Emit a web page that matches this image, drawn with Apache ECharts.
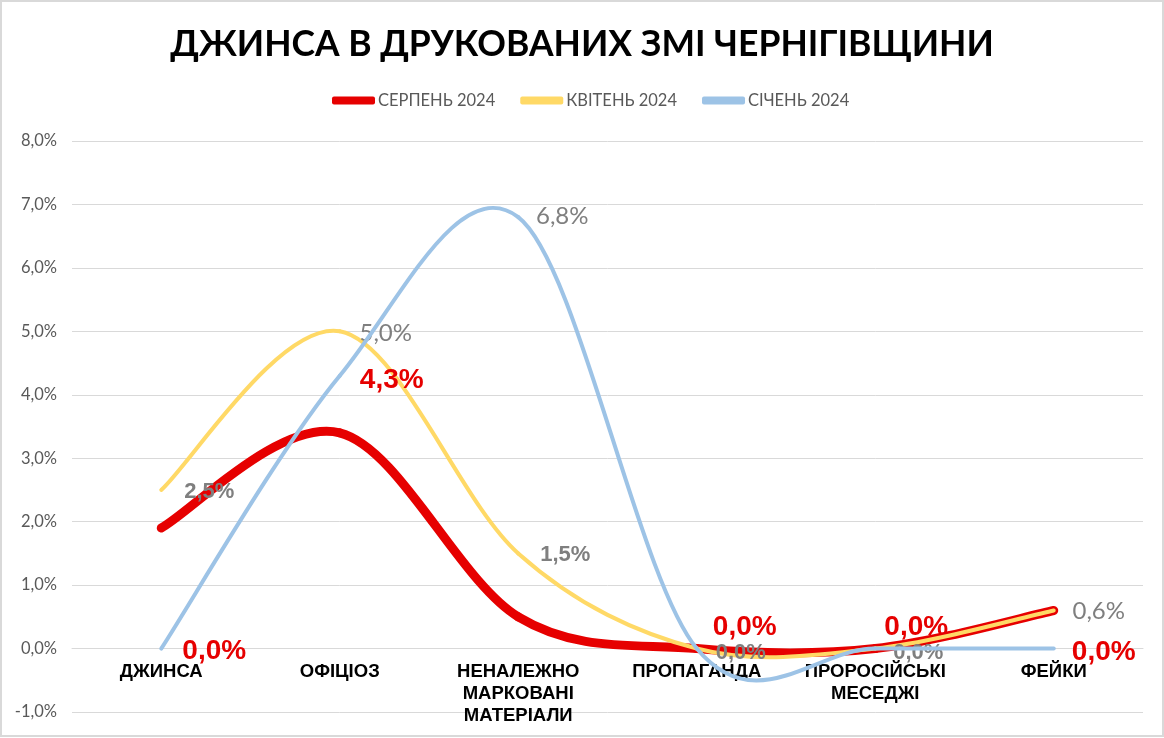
<!DOCTYPE html>
<html>
<head>
<meta charset="utf-8">
<script src="https://cdn.jsdelivr.net/npm/echarts@6/dist/echarts.min.js"></script>
<style>
html,body{margin:0;padding:0;background:#fff;}
#chart{width:1164px;height:738px;}
</style>
</head>
<body>
<div id="chart"></div>
<script>
const title = 'ДЖИНСА В ДРУКОВАНИХ ЗМІ ЧЕРНІГІВЩИНИ';
const categories = ['ДЖИНСА', 'ОФІЦІОЗ', 'НЕНАЛЕЖНО\nМАРКОВАНІ\nМАТЕРІАЛИ', 'ПРОПАГАНДА', 'ПРОРОСІЙСЬКІ\nМЕСЕДЖІ', 'ФЕЙКИ'];
const seriesNames = ['СЕРПЕНЬ 2024', 'КВІТЕНЬ 2024', 'СІЧЕНЬ 2024'];
const serpen = [1.9, 3.4, 0.5, 0.0, 0.0, 0.6];
const kviten = [2.5, 5.0, 1.5, 0.0, 0.0, 0.6];
const sichen = [0.0, 4.3, 6.8, 0.0, 0.0, 0.0];
const yTicks = [-1, 0, 1, 2, 3, 4, 5, 6, 7, 8];

const fmt = v => v.toFixed(1).replace('.', ',') + '%';

const RED = { fill: '#e60000', fontSize: 28, fontWeight: 'bold', fontFamily: 'Liberation Sans' };
const GRAYB = { fill: '#7f7f7f', fontSize: 22, fontWeight: 'bold', fontFamily: 'Liberation Sans' };
const GRAYR = { fill: '#7f7f7f', fontSize: 24, fontWeight: 'normal', fontFamily: 'Lato' };

// per-point label style: [style, dx, dy] or null
const serpenLabels = [null, null, null, [RED, 48, -21], [RED, 41, -21], null];
const kvitenLabels = [[GRAYB, 48, 2], [GRAYR, 46, 2], [GRAYB, 47, 2], [GRAYB, 44, 4], [GRAYB, 43, 4], [GRAYR, 45, 1]];
const sichenLabels = [[RED, 53, 3], [RED, 52, 5], [GRAYR, 44, -1], null, null, [RED, 50, 4]];

const GRID_TOP = 141, GRID_BOTTOM = 26, CHART_H = 738;
// distance from the bottom of the plot (axis min) up to the zero line
const zeroOffset = -(CHART_H - GRID_TOP - GRID_BOTTOM) * (0 - yTicks[0]) / (yTicks[yTicks.length - 1] - yTicks[0]);

// Smoothed (Catmull-Rom style, tension 1/6) line drawn segment by segment through the axis scales
function mkSeries(name, values, labels, color, width, z) {
  const n = values.length;
  return {
    name: name, type: 'custom', z: z, clip: false,
    encode: { x: 0, y: 1 },
    data: values.map((v, i) => [i, v]),
    renderItem: function (params, api) {
      const i = params.dataIndex;
      const pt = k => api.coord([Math.max(0, Math.min(n - 1, k)), values[Math.max(0, Math.min(n - 1, k))]]);
      const children = [];
      if (i < n - 1) {
        const p0 = pt(i - 1), p1 = pt(i), p2 = pt(i + 1), p3 = pt(i + 2);
        children.push({
          type: 'bezierCurve',
          shape: {
            x1: p1[0], y1: p1[1], x2: p2[0], y2: p2[1],
            cpx1: p1[0] + (p2[0] - p0[0]) / 6, cpy1: p1[1] + (p2[1] - p0[1]) / 6,
            cpx2: p2[0] - (p3[0] - p1[0]) / 6, cpy2: p2[1] - (p3[1] - p1[1]) / 6
          },
          style: { stroke: color, lineWidth: width, fill: null, lineCap: 'round', lineJoin: 'round' },
          z2: 1
        });
      }
      const l = labels[i];
      if (l) {
        const p = pt(i);
        children.push({
          type: 'text', z2: 10,
          x: p[0] + l[1], y: p[1] + l[2],
          style: Object.assign({ text: fmt(values[i]), align: 'center', verticalAlign: 'middle' }, l[0])
        });
      }
      return { type: 'group', children: children };
    }
  };
}

const chart = echarts.init(document.getElementById('chart'));
chart.setOption({
  animation: false,
  backgroundColor: '#fff',
  title: {
    text: title, left: 'center', top: 22,
    textStyle: { fontFamily: 'Lato', fontWeight: 'bold', fontSize: 35.5, color: '#000' }
  },
  legend: {
    top: 87, left: 327, itemWidth: 43, itemHeight: 8, itemGap: 25,
    data: [
      { name: seriesNames[0], icon: 'roundRect', itemStyle: { color: '#e60000' } },
      { name: seriesNames[1], icon: 'roundRect', itemStyle: { color: '#ffd966' } },
      { name: seriesNames[2], icon: 'roundRect', itemStyle: { color: '#9dc3e6' } }
    ],
    textStyle: { fontFamily: 'Lato', fontSize: 16.5, color: '#595959', padding: [0, 0, 0, -2] }
  },
  grid: { left: 72, right: 21, top: GRID_TOP, bottom: GRID_BOTTOM, containLabel: false, outerBoundsMode: 'none' },
  xAxis: {
    type: 'category', data: categories, boundaryGap: true,
    offset: zeroOffset,
    axisLine: { show: true, onZero: false, lineStyle: { color: '#d9d9d9', width: 1 } },
    axisTick: { show: false },
    axisLabel: { interval: 0, margin: 12, color: '#000', fontFamily: 'Liberation Sans', fontWeight: 'bold', fontSize: 18.5, lineHeight: 22 }
  },
  yAxis: {
    type: 'value', min: yTicks[0], max: yTicks[yTicks.length - 1], interval: 1,
    axisLine: { show: false }, axisTick: { show: false },
    splitLine: { lineStyle: { color: '#d9d9d9', width: 1 } },
    axisLabel: { margin: 15, color: '#595959', fontFamily: 'Lato', fontSize: 16.5, formatter: v => fmt(v) }
  },
  graphic: [{
    type: 'rect', shape: { x: 1, y: 1, width: 1162, height: 735 },
    style: { fill: 'none', stroke: '#d9d9d9', lineWidth: 2 }, silent: true
  }],
  series: [
    mkSeries(seriesNames[0], serpen, serpenLabels, '#e60000', 9, 2),
    mkSeries(seriesNames[1], kviten, kvitenLabels, '#ffd966', 4, 3),
    mkSeries(seriesNames[2], sichen, sichenLabels, '#9dc3e6', 4, 4)
  ]
});
</script>
</body>
</html>
